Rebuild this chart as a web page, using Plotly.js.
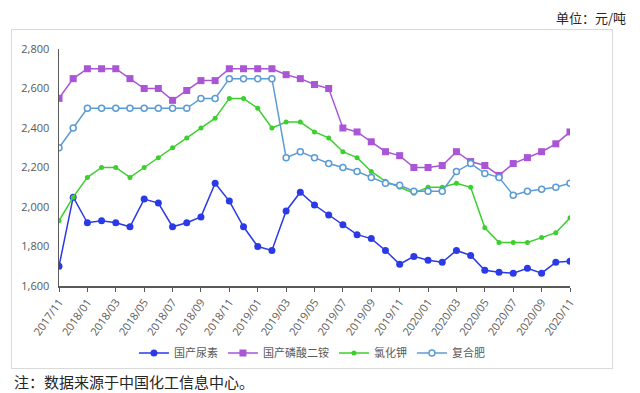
<!DOCTYPE html>
<html>
<head>
<meta charset="utf-8">
<script src="https://cdn.plot.ly/plotly-3.0.1.min.js"></script>
<style>
  html, body { margin:0; padding:0; background:#fff; }
  #wrap { position:relative; width:640px; height:393px; }
  #frame { position:absolute; left:11px; top:29px; width:600px; height:338px; border:1px solid #d9d9d9; }
  #chart { position:absolute; left:0; top:0; width:640px; height:393px; }
</style>
</head>
<body>
<div id="wrap">
  <div id="frame"></div>
  <div id="chart"></div>
</div>
<script>
const months = [
  "2017/11","2017/12","2018/01","2018/02","2018/03","2018/04","2018/05","2018/06","2018/07","2018/08","2018/09","2018/10",
  "2018/11","2018/12","2019/01","2019/02","2019/03","2019/04","2019/05","2019/06","2019/07","2019/08","2019/09","2019/10",
  "2019/11","2019/12","2020/01","2020/02","2020/03","2020/04","2020/05","2020/06","2020/07","2020/08","2020/09","2020/10","2020/11"
];
const urea = [1700,2050,1920,1930,1920,1900,2040,2020,1900,1920,1950,2120,
              2030,1900,1800,1780,1980,2075,2010,1960,1910,1860,1840,1780,
              1710,1750,1730,1720,1780,1755,1680,1670,1665,1690,1665,1720,1725];
const dap = [2550,2650,2700,2700,2700,2650,2600,2600,2540,2590,2640,2640,
             2700,2700,2700,2700,2670,2650,2620,2600,2400,2380,2330,2280,
             2260,2200,2200,2210,2280,2230,2210,2160,2220,2250,2280,2320,2380];
const kcl = [1930,2050,2150,2200,2200,2150,2200,2250,2300,2350,2400,2450,
             2550,2550,2500,2400,2430,2430,2380,2350,2280,2250,2180,2130,
             2100,2070,2100,2100,2120,2100,1895,1820,1820,1820,1845,1870,1945];
const compound = [2300,2400,2500,2500,2500,2500,2500,2500,2500,2500,2550,2550,
                  2650,2650,2650,2650,2250,2280,2250,2220,2200,2180,2150,2120,
                  2110,2080,2080,2080,2180,2220,2170,2150,2060,2080,2090,2100,2120];
const seriesNames = ["国产尿素","国产磷酸二铵","氯化钾","复合肥"];

const idx = months.map((m, i) => i);
const tickIdx = idx.filter(i => i % 2 === 0);
const tickText = tickIdx.map(i => months[i]);

const traces = [
  {x: idx, y: urea, name: seriesNames[0], mode: "lines+markers",
   line: {color: "#2a3ae6", width: 1.5},
   marker: {symbol: "circle", size: 7, color: "#2a3ae6"}},
  {x: idx, y: dap, name: seriesNames[1], mode: "lines+markers",
   line: {color: "#a955d6", width: 1.5},
   marker: {symbol: "square", size: 7, color: "#a955d6"}},
  {x: idx, y: kcl, name: seriesNames[2], mode: "lines+markers",
   line: {color: "#3ccf2e", width: 1.5},
   marker: {symbol: "circle", size: 5, color: "#3ccf2e"}},
  {x: idx, y: compound, name: seriesNames[3], mode: "lines+markers",
   line: {color: "#5b9bd5", width: 1.5},
   marker: {symbol: "circle", size: 6, color: "#ffffff", line: {color: "#5b9bd5", width: 1.5}}}
];

const layout = {
  width: 640, height: 393,
  margin: {l: 59, r: 70, t: 49, b: 107, pad: 0},
  paper_bgcolor: "rgba(0,0,0,0)",
  plot_bgcolor: "rgba(0,0,0,0)",
  font: {family: "'Noto Sans CJK SC', 'Open Sans', sans-serif", color: "#595959", size: 11},
  showlegend: true,
  legend: {orientation: "h", x: 0.495, xanchor: "center", y: -0.283, yanchor: "middle",
           font: {size: 11, color: "#595959"}, itemwidth: 30, tracegroupgap: 0,
           bgcolor: "rgba(0,0,0,0)"},
  xaxis: {
    range: [0, 36], showgrid: false, zeroline: false,
    tickmode: "array", tickvals: tickIdx, ticktext: tickText,
    tickangle: -55, ticks: "outside", ticklen: 4, tickcolor: "#595959", tickwidth: 1,
    showline: true, linecolor: "#595959", linewidth: 1.5,
    tickfont: {family: "'Open Sans', sans-serif", size: 11, color: "#595959"}
  },
  yaxis: {
    range: [1600, 2800], dtick: 200, showgrid: false, zeroline: false,
    tickformat: ",d", ticks: "", showline: true, linecolor: "#595959", linewidth: 1.5,
    ticklabelstandoff: 6,
    tickfont: {family: "'Open Sans', sans-serif", size: 11, color: "#595959"}
  },
  annotations: [
    {text: "单位：元/吨", xref: "paper", yref: "paper", x: 1.1135, y: 1.135,
     xanchor: "right", yanchor: "middle", showarrow: false,
     font: {family: "'Noto Sans CJK SC', sans-serif", size: 13, color: "#262626"}},
    {text: "注：数据来源于中国化工信息中心。", xref: "paper", yref: "paper", x: -0.092, y: -0.405,
     xanchor: "left", yanchor: "middle", showarrow: false,
     font: {family: "'Noto Sans CJK SC', sans-serif", size: 15, color: "#262626"}}
  ]
};

Plotly.newPlot("chart", traces, layout, {displayModeBar: false, staticPlot: true});
</script>
</body>
</html>
